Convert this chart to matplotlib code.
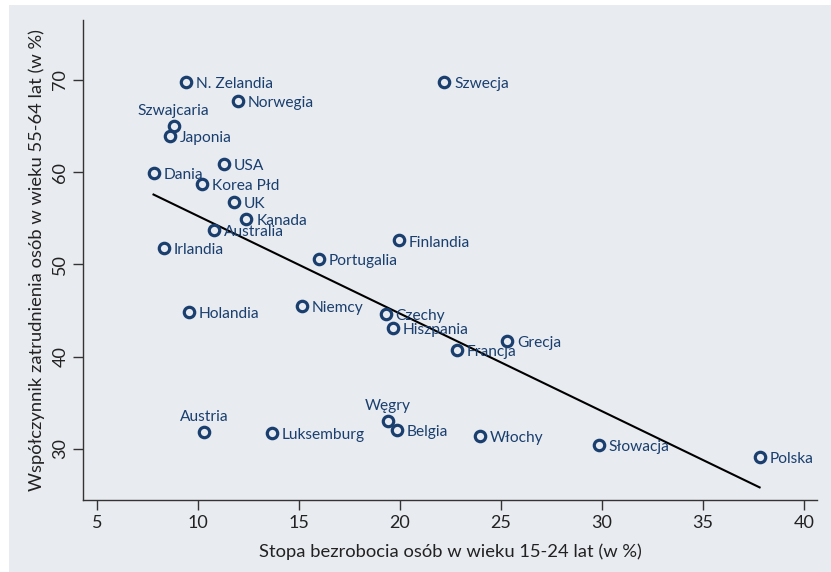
import numpy as np
import matplotlib
matplotlib.use("Agg")
import matplotlib.pyplot as plt
from matplotlib.patches import Rectangle

countries = ["N. Zelandia", "Norwegia", "Szwajcaria", "Japonia", "USA", "Dania",
             "Korea Płd", "UK", "Kanada", "Australia", "Irlandia", "Portugalia",
             "Finlandia", "Szwecja", "Holandia", "Niemcy", "Czechy", "Hiszpania",
             "Francja", "Grecja", "Austria", "Luksemburg", "Węgry", "Belgia",
             "Włochy", "Słowacja", "Polska"]
unemp = [9.4, 12.0, 8.8, 8.6, 11.3, 7.8, 10.2, 11.8, 12.4, 10.8, 8.3, 16.0,
         19.95, 22.2, 9.55, 15.15, 19.3, 19.65, 22.8, 25.3, 10.3, 13.65, 19.4, 19.85,
         23.95, 29.85, 37.8]
employ = [69.8, 67.7, 65.0, 63.9, 60.9, 59.9, 58.7, 56.8, 54.9, 53.7, 51.8, 50.6,
          52.6, 69.8, 44.9, 45.5, 44.6, 43.1, 40.7, 41.7, 31.8, 31.7, 33.0, 32.1,
          31.4, 30.4, 29.1]
label_top = {"Szwajcaria", "Austria", "Węgry"}

xticks = [5, 10, 15, 20, 25, 30, 35, 40]
yticks = [30, 40, 50, 60, 70]

BG = "#e8ebf0"
NAVY = "#1a3f6e"
plt.rcParams['font.family'] = ['Lato', 'DejaVu Sans']

fig = plt.figure(figsize=(8.31, 5.72), dpi=100)
fig.patch.set_facecolor("white")
fig.patches.append(Rectangle((9 / 831, 0), 1 - 9 / 831, 1 - 5 / 572,
                             transform=fig.transFigure, facecolor=BG,
                             edgecolor="none", zorder=-10))
ax = fig.add_axes([83 / 831, 1 - 500 / 572, (817 - 83) / 831, (500 - 20) / 572])
ax.set_facecolor(BG)
ax.patch.set_alpha(0)

ax.plot(unemp, employ, linestyle="none", marker="o", markersize=7.5,
        markerfacecolor="none", markeredgecolor=NAVY, markeredgewidth=2.3, zorder=3)

# linear fit
x = np.array(unemp)
y = np.array(employ)
b, a = np.polyfit(x, y, 1)
xs = np.array([x.min(), x.max()])
ax.plot(xs, a + b * xs, color="black", lw=1.5, zorder=2)

for c, xv, yv in zip(countries, unemp, employ):
    if c in label_top:
        ax.annotate(c, (xv, yv), xytext=(0, 6), textcoords="offset points",
                    ha="center", va="bottom", color=NAVY, fontsize=11.2)
    else:
        ax.annotate(c, (xv, yv), xytext=(7, -1.5), textcoords="offset points",
                    ha="left", va="center", color=NAVY, fontsize=11.2)

ax.set_xlim(4.31, 40.64)
ax.set_ylim(24.47, 76.5)
ax.set_xticks(xticks)
ax.set_yticks(yticks)
ax.set_yticklabels([str(t) for t in yticks], rotation=90, va="center")
for s in ["top", "right"]:
    ax.spines[s].set_visible(False)
for s in ["left", "bottom"]:
    ax.spines[s].set_color("#333333")
    ax.spines[s].set_linewidth(1.0)
ax.tick_params(axis="both", colors="#333333", labelcolor="#222222",
               labelsize=13, length=7, width=1.0)
ax.set_xlabel("Stopa bezrobocia osób w wieku 15-24 lat (w %)", fontsize=13.2,
              color="#222222", labelpad=9)
ax.set_ylabel("Współczynnik zatrudnienia osób w wieku 55-64 lat (w %)",
              fontsize=13.2, color="#222222", labelpad=5)

fig.savefig("out.png", dpi=100)
